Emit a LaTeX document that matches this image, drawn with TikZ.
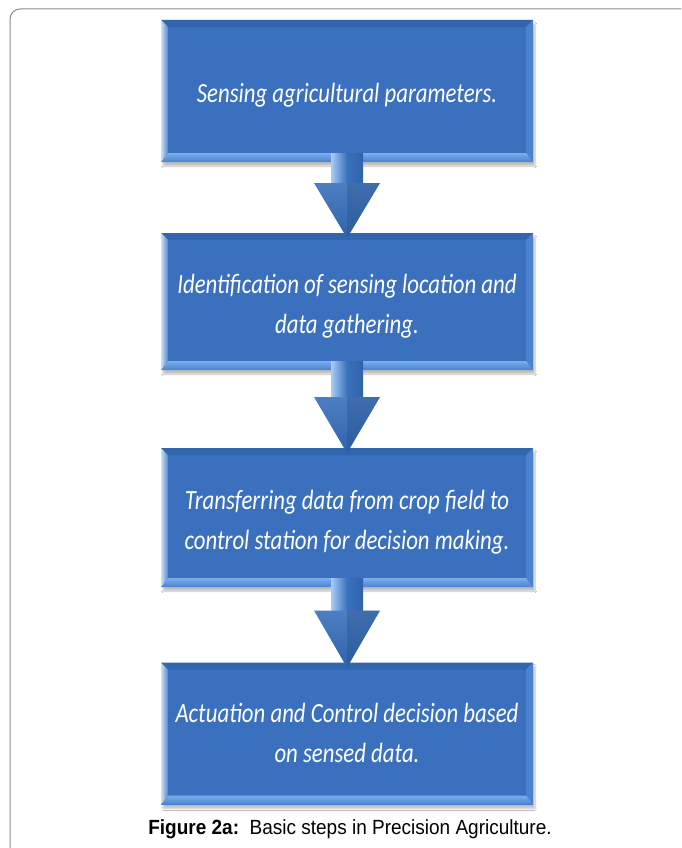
\documentclass[tikz,border=0pt]{standalone}
\usepackage{fontspec}
\setmainfont{Carlito}
\newfontfamily\capfont{Liberation Sans}
\usetikzlibrary{calc,shadows.blur}
\definecolor{bodyblue}{HTML}{3A70BD}
\definecolor{topbev}{HTML}{3165AE}
\definecolor{botbevA}{HTML}{7AAEEC}
\definecolor{botbevB}{HTML}{4A82CF}
\definecolor{leftbev}{HTML}{C9E0FA}
\definecolor{rightbev}{HTML}{4C82CB}
\definecolor{framegray}{HTML}{8C8C8C}
\definecolor{arrowdark}{HTML}{2F63AA}
\definecolor{arrowlight}{HTML}{A9CDF4}
\newcommand{\boxtext}[1]{\scalebox{1}[1.22]{\begin{tabular}{@{}c@{}}#1\end{tabular}}}
\tikzset{
  stepbox/.style={minimum width=372pt, inner sep=0pt, outer sep=0pt,
    fill=bodyblue,
    blur shadow={shadow xshift=2pt, shadow yshift=-4pt, shadow blur steps=6, shadow opacity=25}},
  steptext/.style={inner sep=0pt, outer sep=0pt,
    text=white, align=center, font=\fontsize{22.8}{32.8}\selectfont\itshape},
}
\newcommand{\bev}[1]{%
  \fill[topbev] (#1.north west) -- (#1.north east) -- ($(#1.north east)+(-7,7)$) -- ($(#1.north west)+(7,7)$) -- cycle;
  \fill[rightbev] (#1.north east) -- (#1.south east) -- ($(#1.south east)+(-7,-9)$) -- ($(#1.north east)+(-7,7)$) -- cycle;
  \shade[top color=botbevA, bottom color=botbevB] (#1.south west) -- (#1.south east) -- ($(#1.south east)+(-7,-9)$) -- ($(#1.south west)+(7,-9)$) -- cycle;
  \shade[left color=leftbev, right color=bodyblue!85!white] (#1.north west) -- (#1.south west) -- ($(#1.south west)+(7,-9)$) -- ($(#1.north west)+(7,7)$) -- cycle;
}
\newcommand{\flowarrow}[3]{% from, to, headheight
  \shade[left color=arrowlight, right color=arrowdark, middle color=bodyblue]
    ($(#1.south)+(-16,-9)$) -- ($(#2.north)+(-16,-#3)$) -- ($(#2.north)+(16,-#3)$) -- ($(#1.south)+(16,-9)$) -- cycle;
  \shade[top color=bodyblue!90!white, bottom color=arrowdark]
    ($(#2.north)+(-33,-#3)$) -- ($(#2.north)+(33,-#3)$) -- ($(#2.north)+(0,5)$) -- cycle;
  \fill[arrowdark!80!black, opacity=0.35]
    ($(#2.north)+(0,-#3)$) -- ($(#2.north)+(33,-#3)$) -- ($(#2.north)+(0,5)$) -- cycle;
}
\begin{document}
\begin{tikzpicture}[x=1pt,y=-1pt]
\clip (0,0) rectangle (681,848);
\fill[white] (0,0) rectangle (681,848);
\draw[framegray, line width=1pt, rounded corners=10pt] (10,870) -- (10,9) -- (700,9);

\node[stepbox, minimum height=142pt] (b1) at (347,91) {};
\node[stepbox, minimum height=137pt] (b2) at (347,301.5) {};
\node[stepbox, minimum height=139pt] (b3) at (347,517.5) {};
\node[stepbox, minimum height=142pt] (b4) at (347,733.5) {};
\bev{b1}\bev{b2}\bev{b3}\bev{b4}
\node[steptext] (t1) at ([yshift=-3pt]b1.center) {\boxtext{Sensing agricultural parameters.}};
\node[steptext] (t2) at ([yshift=-4pt]b2.center) {\boxtext{Identification of sensing location and\\data gathering.}};
\node[steptext] (t3) at ([yshift=-4pt]b3.center) {\boxtext{Transferring data from crop field to\\control station for decision making.}};
\node[steptext] (t4) at ([yshift=-1pt]b4.center) {\boxtext{Actuation and Control decision based\\on sensed data.}};

\flowarrow{b1}{b2}{50}
\flowarrow{b2}{b3}{51}
\flowarrow{b3}{b4}{52}

\node[font=\capfont\fontsize{19}{22}\selectfont, anchor=base] (cap) at (350,834) {\scalebox{1}[1.08]{\textbf{Figure 2a:}\ \ Basic steps in Precision Agriculture.}};
\end{tikzpicture}
\end{document}
